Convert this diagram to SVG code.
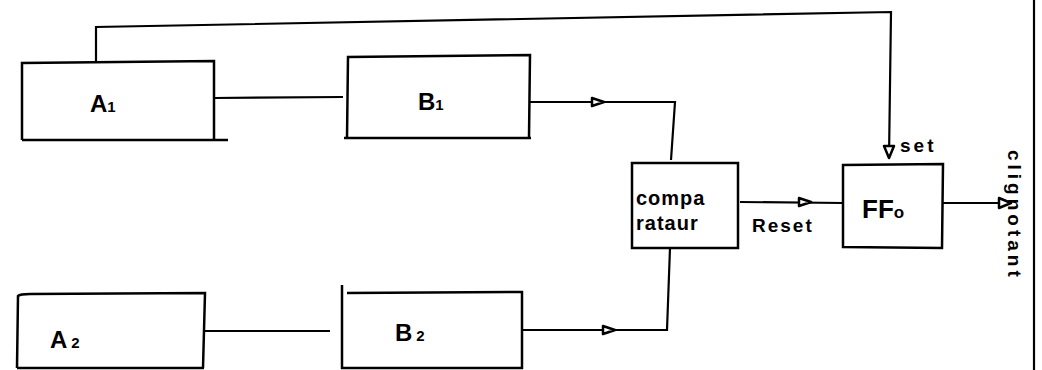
<svg xmlns="http://www.w3.org/2000/svg" width="1042" height="370" viewBox="0 0 1042 370">
<defs>
<style>
.box{fill:none;stroke:#000;stroke-width:2.5}
.ln{fill:none;stroke:#000;stroke-width:2.2}
.ah{fill:#fff;stroke:#000;stroke-width:2.5;stroke-linejoin:round}
.t{font-family:"Liberation Sans",Arial,sans-serif;fill:#000;font-weight:bold}
.big{font-size:24px}
.sm{font-size:15px}
</style>
</defs>
<rect width="1042" height="370" fill="#fff"/>
<g id="connectors">
<path class="ln" d="M96,62 L96,27 L891,12 L889,158"/>
<path class="ln" d="M214,98 L343,97"/>
<path class="ln" d="M530,102 L675,102 L671,160"/>
<path class="ln" d="M204,331 L330,331"/>
<path class="ln" d="M522,330 L667,330 L670,248"/>
<path class="ln" d="M740,202 L843,203"/>
<path class="ln" d="M943,203 L1010,203"/>
<path class="ln" d="M1034,0 L1034,370"/>
<path class="ah" d="M592,98 L604,102 L592,106 Z"/>
<path class="ah" d="M603,326 L615,330 L603,334 Z"/>
<path class="ah" d="M799,198 L811,202 L799,206 Z"/>
<path class="ah" d="M999,198 L1011,203 L999,208 Z"/>
<path class="ah" d="M884,146 L889,158 L894,146 Z"/>
</g>
<g id="A1">
<path class="box" d="M22,140 L22,63 L214,61 L214,140 M22,140 L228,140"/>
<text class="t big" x="90" y="112">A<tspan class="sm">1</tspan></text>
</g>
<g id="B1">
<path class="box" d="M347,138 L348,57 L530,55 L529,137 M344,138 L531,138"/>
<text class="t big" x="418" y="110">B<tspan class="sm">1</tspan></text>
</g>
<g id="A2">
<path class="box" d="M17,368 L18,296 Q20,294 30,294 L205,293 L203,368 M17,368 L204,368"/>
<text class="t big" x="50" y="348" letter-spacing="4">A<tspan class="sm">2</tspan></text>
</g>
<g id="B2">
<path class="box" d="M342,285 L342,368 L522,368 L522,292 L347,293"/>
<text class="t big" x="395" y="341" letter-spacing="4">B<tspan class="sm">2</tspan></text>
</g>
<g id="comparateur">
<rect class="box" x="632" y="163" width="106" height="85"/>
<text class="t" font-size="20" x="636" y="205" letter-spacing="1">compa</text>
<text class="t" font-size="20" x="636" y="230" letter-spacing="1">rataur</text>
</g>
<g id="FFo">
<path class="box" d="M843,165 L943,164 L942,248 L843,247 Z"/>
<text class="t" font-size="26" x="862" y="218">FF<tspan font-size="17">o</tspan></text>
</g>
<g id="labels">
<text class="t" font-size="19" x="752" y="232" letter-spacing="2">Reset</text>
<text class="t" font-size="19" x="900" y="152" letter-spacing="3">set</text>
<text class="t" font-size="19" letter-spacing="4" transform="translate(1008,150) rotate(90)">clignotant</text>
</g>
</svg>
